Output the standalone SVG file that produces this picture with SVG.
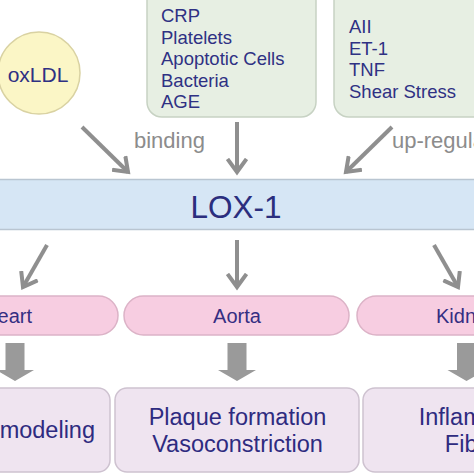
<svg xmlns="http://www.w3.org/2000/svg" width="474" height="474" viewBox="0 0 474 474">
<defs>
<style>
.t{font-family:"Liberation Sans",Arial,sans-serif;}
.list{font-size:18.5px;fill:#2f3183;}
.src{fill:#e7efe3;stroke:#c7d2c3;stroke-width:1.5;}
.lbl{font-size:22px;fill:#8c8c8c;}
.org{fill:#f7cde1;stroke:#dcb3c7;stroke-width:1.5;}
.orgt{font-size:20px;fill:#352e82;}
.eff{fill:#efe4f0;stroke:#cec2d0;stroke-width:1.5;}
.efft{font-size:23.5px;fill:#2e2b80;}
.ln{stroke:#8f8f8f;stroke-width:4;fill:none;marker-end:url(#ah);}
.blk{fill:#9a9a9a;}
</style>
<marker id="ah" markerUnits="userSpaceOnUse" viewBox="0 0 18 22" refX="14" refY="11" markerWidth="18" markerHeight="22" orient="auto">
<path d="M1,1.5 L14,11 L1,20.5" fill="none" stroke="#8f8f8f" stroke-width="4"/>
</marker>
</defs>
<rect width="474" height="474" fill="#ffffff"/>

<g id="oxLDL">
<circle cx="39" cy="73" r="41" fill="#fbf6c6" stroke="#d9d2a2" stroke-width="1.5"/>
<text class="t" x="38" y="82" font-size="21" fill="#2f3183" text-anchor="middle">oxLDL</text>
</g>

<g id="ligands">
<rect class="src" x="147" y="-14" width="169" height="131" rx="15"/>
<text class="t list" x="161" y="22">CRP</text>
<text class="t list" x="161" y="43.5">Platelets</text>
<text class="t list" x="161" y="65">Apoptotic Cells</text>
<text class="t list" x="161" y="86.5">Bacteria</text>
<text class="t list" x="161" y="108">AGE</text>
</g>

<g id="inducers">
<rect class="src" x="334" y="-14" width="170" height="131" rx="15"/>
<text class="t list" x="349" y="33">AII</text>
<text class="t list" x="349" y="54.5">ET-1</text>
<text class="t list" x="349" y="76">TNF</text>
<text class="t list" x="349" y="97.5">Shear Stress</text>
</g>

<g id="labels">
<text class="t lbl" x="134" y="148">binding</text>
<text class="t lbl" x="392" y="148">up-regulation</text>
</g>

<g id="lox1">
<rect x="-5" y="179.5" width="484" height="50" fill="#d6e6f5" stroke="#b9c5d1" stroke-width="1.5"/>
<text class="t" x="236" y="218" font-size="31.5" fill="#2b2e7e" text-anchor="middle">LOX-1</text>
</g>

<g id="heart">
<rect class="org" x="-60" y="296" width="178" height="39" rx="19.5"/>
<text class="t orgt" x="32" y="323" text-anchor="end">Heart</text>
</g>
<g id="aorta">
<rect class="org" x="124" y="296" width="225" height="39" rx="19.5"/>
<text class="t orgt" x="237" y="323" text-anchor="middle">Aorta</text>
</g>
<g id="kidney">
<rect class="org" x="357" y="296" width="180" height="39" rx="19.5"/>
<text class="t orgt" x="436" y="323">Kidney</text>
</g>

<g id="remodeling">
<rect class="eff" x="-140" y="388" width="250" height="84" rx="12"/>
<text class="t efft" x="95" y="438" text-anchor="end">Remodeling</text>
</g>
<g id="plaque">
<rect class="eff" x="115" y="388" width="244" height="84" rx="12"/>
<text class="t efft" x="237.5" y="425" text-anchor="middle">Plaque formation</text>
<text class="t efft" x="237.5" y="452" text-anchor="middle">Vasoconstriction</text>
</g>
<g id="inflammation">
<rect class="eff" x="363" y="388" width="244" height="84" rx="12"/>
<text class="t efft" x="486" y="425" text-anchor="middle">Inflammation</text>
<text class="t efft" x="486" y="452" text-anchor="middle">Fibrosis</text>
</g>

<g id="connectors">
<line class="ln" x1="82" y1="127" x2="128" y2="172"/>
<line class="ln" x1="237" y1="122" x2="237" y2="172"/>
<line class="ln" x1="392" y1="127" x2="346" y2="172"/>
<line class="ln" x1="47" y1="245" x2="23" y2="287"/>
<line class="ln" x1="237" y1="240" x2="237" y2="287"/>
<line class="ln" x1="434" y1="245" x2="458" y2="287"/>
<polygon class="blk" points="5.5,343 24.5,343 24.5,370 34,370 15,381 -4,370 5.5,370"/>
<polygon class="blk" points="227.5,343 246.5,343 246.5,370 256,370 237,381 218,370 227.5,370"/>
<polygon class="blk" points="457,343 476,343 476,370 485.5,370 466.5,381 447.5,370 457,370"/>
</g>
</svg>
